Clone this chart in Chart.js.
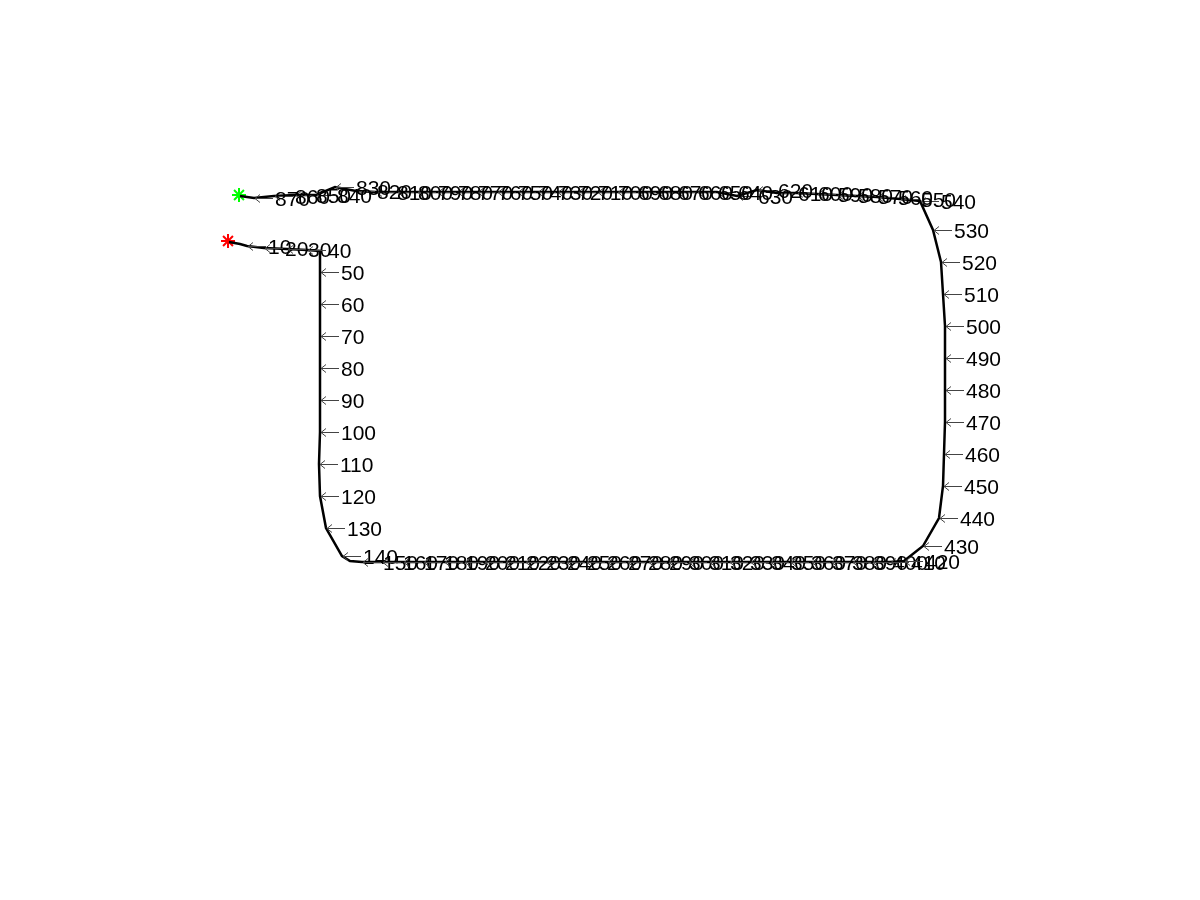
<!DOCTYPE html>
<html>
<head>
<meta charset="utf-8">
<script src="https://cdn.jsdelivr.net/npm/chart.js@4/dist/chart.umd.min.js"></script>
<style>
html,body{margin:0;padding:0;background:#fff;}
#wrap{width:1200px;height:900px;}
</style>
</head>
<body>
<div id="wrap"><canvas id="c" width="1200" height="900"></canvas></div>
<script>
// Path point numbers (null = unlabeled vertex)
const pathIdx = [1, null, 10, 20, 30, 40, null,
  50, 60, 70, 80, 90, 100, 110, 120, 130, 140, null,
  150, 160, 170, 180, 190, 200, 210, 220, 230, 240, 250, 260, 270, 280, 290, 300,
  310, 320, 330, 340, 350, 360, 370, 380, 390, 400, 410, 420,
  430, 440, 450, 460, 470, 480, 490, 500, 510, 520, 530, 540,
  550, 560, 570, 580, 590, 600, 610, 620, 630, 640, 650, 660, 670, 680, 690, 700,
  710, 720, 730, 740, 750, 760, 770, 780, 790, 800, 810, 820, 830, 840, 850, 860, 870, 877];
const pathX = [229, 240, 247, 264, 287, 307, 320,
  320, 320, 320, 320, 320, 320, 319, 320, 326, 342, 350,
  362, 382, 403, 423, 444, 464, 484, 505, 525, 546, 566, 586, 607, 627, 648, 668,
  688, 709, 729, 750, 770, 790, 811, 831, 852, 872, 890, 904,
  923, 939, 943, 944, 945, 945, 945, 945, 943, 941, 933, 920,
  900, 877, 857, 837, 817, 797, 777, 757, 737, 717, 697, 677, 657, 637, 617, 597,
  577, 557, 537, 517, 497, 477, 457, 437, 417, 397, 376, 356, 335, 316, 295, 274, 254, 240];
const pathY = [242, 244, 246, 248, 249, 250, 251,
  272, 304, 336, 368, 400, 432, 464, 496, 528, 556, 561,
  562, 562, 562, 562, 562, 562, 562, 562, 562, 562, 562, 562, 562, 562, 562, 562,
  562, 562, 562, 562, 562, 562, 562, 562, 562, 562, 562, 561,
  546, 518, 486, 454, 422, 390, 358, 326, 294, 262, 230, 201,
  199, 197, 196, 195, 194, 193, 193, 190, 196, 192, 192, 192, 192, 192, 192, 192,
  192, 192, 192, 192, 192, 192, 192, 192, 192, 192, 192, 191, 187, 195, 195, 196, 198, 196];
const startPoint = [{x: 228, y: 241}];
const endPoint = [{x: 239, y: 195}];

const pathData = pathX.map((x, i) => ({x: x, y: pathY[i], n: pathIdx[i]}));

const labelPlugin = {
  id: 'labels',
  afterDatasetsDraw(chart) {
    const ctx = chart.ctx;
    const xs = chart.scales.x, ys = chart.scales.y;
    ctx.save();
    ctx.font = '21px "Liberation Sans", Arial, sans-serif';
    ctx.textBaseline = 'alphabetic';
    ctx.textAlign = 'left';
    pathData.forEach(p => {
      if (p.n === null || p.n % 10 !== 0) return;
      const px = Math.round(xs.getPixelForValue(p.x));
      const py = Math.round(ys.getPixelForValue(p.y)) + 0.5;
      // arrow
      ctx.strokeStyle = '#444';
      ctx.lineWidth = 1;
      ctx.beginPath();
      ctx.moveTo(px + 1, py);
      ctx.lineTo(px + 19, py);
      ctx.moveTo(px + 6, py - 4);
      ctx.lineTo(px + 1, py);
      ctx.lineTo(px + 6, py + 4);
      ctx.stroke();
      ctx.fillStyle = '#000';
      ctx.fillText(String(p.n), px + 21, py + 7.5);
    });
    ctx.restore();
  }
};

new Chart(document.getElementById('c'), {
  type: 'scatter',
  data: {
    datasets: [
      {data: pathData, showLine: true, borderColor: '#000', borderWidth: 2.5,
       pointRadius: 0, pointHoverRadius: 0, fill: false, tension: 0},
      {data: startPoint, pointStyle: 'star', pointRadius: 7, pointHoverRadius: 7, borderColor: '#ff0000',
       backgroundColor: '#ff0000', pointBorderWidth: 2},
      {data: endPoint, pointStyle: 'star', pointRadius: 7, pointHoverRadius: 7, borderColor: '#00ff00',
       backgroundColor: '#00ff00', pointBorderWidth: 2}
    ]
  },
  options: {
    responsive: false,
    animation: false,
    layout: {padding: 0, autoPadding: false},
    plugins: {legend: {display: false}, tooltip: {enabled: false}, title: {display: false}},
    scales: {
      x: {type: 'linear', min: 0, max: 1200, display: false},
      y: {type: 'linear', min: 0, max: 900, reverse: true, display: false}
    }
  },
  plugins: [labelPlugin]
});
</script>
</body>
</html>
